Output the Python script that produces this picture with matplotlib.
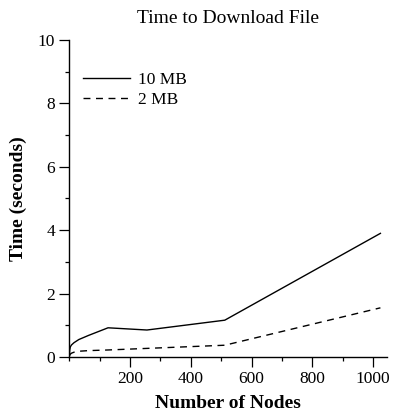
import matplotlib
matplotlib.use("Agg")
import matplotlib.pyplot as plt
from matplotlib.ticker import MultipleLocator

plt.rcParams['font.family'] = ['Liberation Serif', 'DejaVu Serif']

nodes = [1, 2, 4, 8, 16, 32, 64, 128, 256, 512, 1024]
time_10mb = [0.05, 0.22, 0.32, 0.38, 0.45, 0.55, 0.68, 0.92, 0.85, 1.16, 3.9]
time_2mb = [0.03, 0.06, 0.09, 0.12, 0.15, 0.18, 0.2, 0.22, 0.27, 0.37, 1.55]
labels = ["10 MB", "2 MB"]

fig = plt.figure(figsize=(3.95, 4.17), dpi=100)
ax = fig.add_axes([0.175, 0.144, 0.805, 0.760])

ax.plot(nodes, time_10mb, color='black', lw=1.0, label=labels[0])
ax.plot(nodes, time_2mb, color='black', lw=1.0, linestyle=(0, (5, 4)), label=labels[1])

ax.set_xlim(0, 1046)
ax.set_ylim(0, 10)
ax.xaxis.set_major_locator(MultipleLocator(200))
ax.xaxis.set_minor_locator(MultipleLocator(100))
ax.yaxis.set_major_locator(MultipleLocator(2))
ax.yaxis.set_minor_locator(MultipleLocator(1))
ax.set_xticks([200, 400, 600, 800, 1000])
ax.tick_params(which='major', length=7, width=0.9, labelsize=12.5, direction='out', pad=3)
ax.tick_params(which='minor', length=3, width=0.9, direction='out')
for s in ['top', 'right']:
    ax.spines[s].set_visible(False)
for s in ['left', 'bottom']:
    ax.spines[s].set_linewidth(1.0)

ax.set_title("Time to Download File", fontsize=14, pad=12)
ax.set_xlabel("Number of Nodes", fontsize=14, fontweight='bold', labelpad=6)
ax.set_ylabel("Time (seconds)", fontsize=14, fontweight='bold', labelpad=8)

ax.legend(loc='upper left', bbox_to_anchor=(0.006, 0.938), frameon=False, fontsize=12.5,
          handlelength=2.7, handletextpad=0.45, labelspacing=0.2, borderaxespad=0.3)

fig.savefig("out.png", dpi=100)
